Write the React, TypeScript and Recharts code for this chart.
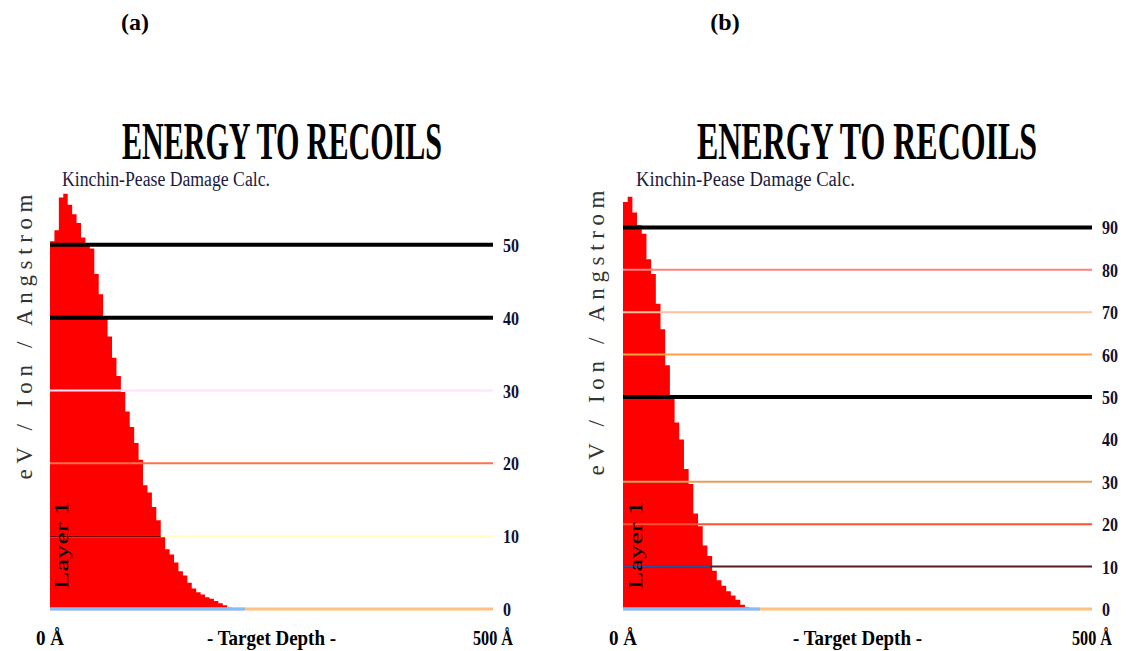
import React from "react"
import { AreaChart, Area, XAxis, YAxis, ReferenceLine } from "recharts"

// depth in Angstrom, energy to recoils in eV / Ion / Angstrom
const depthA = [0, 5, 10, 15, 20, 25, 30, 35, 40, 45, 50, 55, 60, 65, 70, 75, 80, 85, 90, 95, 100, 105, 110, 115, 120, 125, 130, 135, 140, 145, 150, 155, 160, 165, 170, 175, 180, 185, 190, 195, 200, 205]
const energyA = [50.5, 52, 56.5, 57, 55.5, 54.2, 53, 51, 50, 49.5, 46, 43.2, 40, 37.4, 34.5, 32, 29.8, 27.1, 25, 22.8, 20.5, 17, 16, 14, 12.2, 10, 8.2, 7.5, 6.4, 5.2, 4.6, 3.6, 2.8, 2.3, 2, 1.6, 1.4, 1.1, 0.8, 0.5, 0.2, 0]

const depthB = [0, 5, 10, 15, 20, 25, 30, 35, 40, 45, 50, 55, 60, 65, 70, 75, 80, 85, 90, 95, 100, 105, 110, 115, 120, 125, 130, 135]
const energyB = [96, 97.2, 93.5, 90.5, 88.5, 82.5, 79, 72, 66, 57.5, 49.7, 44, 40, 33, 29.5, 22.5, 19.5, 15, 12.5, 9, 6.8, 5.5, 4.2, 3.2, 2.2, 1, 0.4, 0]

const xTicks = [0, 250, 500]
const xTickLabels = ["0 Å", "- Target Depth -", "500 Å"]

const ticksA = [0, 10, 20, 30, 40, 50]
const ticksB = [0, 10, 20, 30, 40, 50, 60, 70, 80, 90]

// gridline colours per tick value
const linesA = [
  { v: 10, color: "#ffffc0", w: 2 },
  { v: 20, color: "#ff7050", w: 2 },
  { v: 30, color: "#ffe0ff", w: 2 },
  { v: 40, color: "#000000", w: 4 },
  { v: 50, color: "#000000", w: 4 },
]
const linesB = [
  { v: 10, color: "#502020", w: 2 },
  { v: 20, color: "#ff5030", w: 2 },
  { v: 30, color: "#e0a060", w: 2 },
  { v: 50, color: "#000000", w: 4 },
  { v: 60, color: "#ffa040", w: 2 },
  { v: 70, color: "#ffc0a0", w: 2 },
  { v: 80, color: "#ff8080", w: 2 },
  { v: 90, color: "#000000", w: 4 },
]

const serif = "'Liberation Serif', 'Times New Roman', serif"

const XTick = (props: any) => {
  const { x, y, payload } = props
  const i = xTicks.indexOf(payload.value)
  const lens = [28, 129, 40]
  return (
    <text x={x} y={y + 34} textAnchor="middle" fontFamily={serif} fontWeight="bold" fontSize={21}
      fill="#000" textLength={lens[i]} lengthAdjust="spacingAndGlyphs">
      {xTickLabels[i]}
    </text>
  )
}

const YTick = (props: any) => {
  const { x, y, payload } = props
  const s = String(payload.value)
  return (
    <text x={x + 8} y={y + 7} textAnchor="start" fontFamily={serif} fontWeight="bold" fontSize={19} fill="#101030"
      textLength={s.length > 1 ? 16 : 8} lengthAdjust="spacingAndGlyphs">
      {s}
    </text>
  )
}

type PanelProps = {
  depth: number[]
  energy: number[]
  ticks: number[]
  lines: { v: number; color: string; w: number }[]
  yMax: number
  width: number
  margin: { top: number; right: number; bottom: number; left: number }
  blueEnd: number
  innerEnd: number
  innerLine: { v: number; color: string }
}

const Panel = ({ depth, energy, ticks, lines, yMax, width, margin, blueEnd, innerEnd, innerLine }: PanelProps) => {
  const data = depth.map((d, i) => ({ depth: d, energy: energy[i] }))
  return (
    <AreaChart width={width} height={651} data={data} margin={margin}>
      <XAxis dataKey="depth" type="number" domain={[0, 500]} ticks={xTicks} axisLine={false} tickLine={false}
        tickSize={0} height={30} tick={<XTick />} interval={0} allowDataOverflow />
      <YAxis orientation="right" type="number" domain={[0, yMax]} ticks={ticks} axisLine={false} tickLine={false}
        tickSize={0} width={30} tick={<YTick />} interval={0} />
      <Area dataKey="energy" type="stepAfter" fill="#ff0000" fillOpacity={1} stroke="none" isAnimationActive={false} />
      {lines.map((l) => (
        <ReferenceLine key={l.v} y={l.v} stroke={l.color} strokeWidth={l.w} />
      ))}
      <ReferenceLine segment={[{ x: 0, y: innerLine.v }, { x: innerEnd, y: innerLine.v }]} stroke={innerLine.color} strokeWidth={2} />
      <ReferenceLine y={0} stroke="#ffc080" strokeWidth={3} />
      <ReferenceLine segment={[{ x: 0, y: 0 }, { x: blueEnd, y: 0 }]} stroke="#80c0ff" strokeWidth={3} />
    </AreaChart>
  )
}

const Texts = () => (
  <svg width={1126} height={651} style={{ position: "absolute", left: 0, top: 0, pointerEvents: "none" }}>
    <text x={135} y={30} textAnchor="middle" fontFamily={serif} fontWeight="bold" fontSize={24}>(a)</text>
    <text x={725} y={30} textAnchor="middle" fontFamily={serif} fontWeight="bold" fontSize={24}>(b)</text>

    <text x={282} y={159} textAnchor="middle" fontFamily={serif} fontWeight="bold" fontSize={52}
      textLength={320} lengthAdjust="spacingAndGlyphs">ENERGY TO RECOILS</text>
    <text x={867} y={159} textAnchor="middle" fontFamily={serif} fontWeight="bold" fontSize={52}
      textLength={340} lengthAdjust="spacingAndGlyphs">ENERGY TO RECOILS</text>

    <text x={62} y={186} fontFamily={serif} fontSize={20} fill="#1a1a40" textLength={208}
      lengthAdjust="spacingAndGlyphs">Kinchin-Pease Damage Calc.</text>
    <text x={636} y={186} fontFamily={serif} fontSize={20} fill="#1a1a40" textLength={219}
      lengthAdjust="spacingAndGlyphs">Kinchin-Pease Damage Calc.</text>

    <text transform="translate(32,337) rotate(-90)" textAnchor="middle" fontFamily={serif} fontSize={23} fill="#333"
      textLength={285} lengthAdjust="spacing">eV / Ion / Angstrom</text>
    <text transform="translate(604,333) rotate(-90)" textAnchor="middle" fontFamily={serif} fontSize={23} fill="#333"
      textLength={285} lengthAdjust="spacing">eV / Ion / Angstrom</text>

    <text transform="translate(68,545) rotate(-90)" textAnchor="middle" fontFamily={serif} fontSize={19} fill="#000"
      textLength={88} lengthAdjust="spacingAndGlyphs">Layer 1</text>
    <text transform="translate(642,545) rotate(-90)" textAnchor="middle" fontFamily={serif} fontSize={19} fill="#000"
      textLength={88} lengthAdjust="spacingAndGlyphs">Layer 1</text>
  </svg>
)

export default function App() {
  return (
    <div style={{ position: "absolute", left: 0, top: 0, width: 1126, height: 651, background: "#fff" }}>
      <div style={{ position: "absolute", left: 0, top: 0 }}>
        <Panel depth={depthA} energy={energyA} ticks={ticksA} lines={linesA} yMax={60} width={560}
          margin={{ top: 172, right: 37, bottom: 12, left: 50 }} blueEnd={220} innerEnd={125}
          innerLine={{ v: 10, color: "#800000" }} />
      </div>
      <div style={{ position: "absolute", left: 560, top: 0 }}>
        <Panel depth={depthB} energy={energyB} ticks={ticksB} lines={linesB} yMax={100} width={566}
          margin={{ top: 185, right: 4, bottom: 12, left: 63 }} blueEnd={146} innerEnd={93}
          innerLine={{ v: 10, color: "#3050a0" }} />
      </div>
      <Texts />
    </div>
  )
}
